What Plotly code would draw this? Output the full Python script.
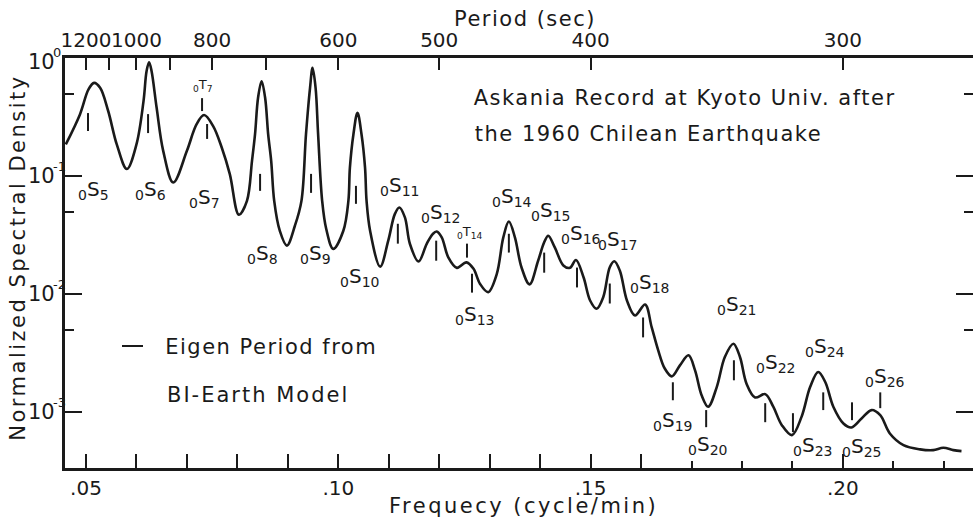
import math
import plotly.graph_objects as go

# ---- data ----
freq = [0.0460, 0.0488, 0.0505, 0.0516, 0.0528, 0.0544, 0.0561, 0.0581, 0.0600, 0.0614,
        0.0620, 0.0625, 0.0630, 0.0640, 0.0653, 0.0673, 0.0700, 0.0719, 0.0734, 0.0752,
        0.0769, 0.0785, 0.0803, 0.0819, 0.0829, 0.0835, 0.0841, 0.0848, 0.0855, 0.0861,
        0.0867, 0.0873, 0.0884, 0.0898, 0.0914, 0.0927, 0.0936, 0.0944, 0.0949, 0.0955,
        0.0960, 0.0968, 0.0976, 0.0990, 0.1010, 0.1020, 0.1023, 0.1030, 0.1038, 0.1046,
        0.1053, 0.1056, 0.1063, 0.1083, 0.1099, 0.1112, 0.1121, 0.1132, 0.1142, 0.1159,
        0.1175, 0.1187, 0.1195, 0.1205, 0.1218, 0.1235, 0.1254, 0.1268, 0.1281, 0.1297,
        0.1314, 0.1327, 0.1338, 0.1350, 0.1363, 0.1379, 0.1396, 0.1408, 0.1416, 0.1429,
        0.1446, 0.1459, 0.1471, 0.1486, 0.1499, 0.1512, 0.1525, 0.1538, 0.1547, 0.1558,
        0.1572, 0.1588, 0.1608, 0.1621, 0.1634, 0.1647, 0.1661, 0.1677, 0.1694, 0.1707,
        0.1720, 0.1733, 0.1750, 0.1766, 0.1783, 0.1796, 0.1809, 0.1826, 0.1846, 0.1862,
        0.1879, 0.1899, 0.1918, 0.1935, 0.1951, 0.1965, 0.1981, 0.2001, 0.2017, 0.2037,
        0.2057, 0.2074, 0.2093, 0.2120, 0.2153, 0.2179, 0.2199, 0.2219, 0.2235]
density = [0.186, 0.334, 0.544, 0.618, 0.561, 0.357, 0.186, 0.115, 0.186, 0.433,
           0.776, 0.925, 0.776, 0.380, 0.164, 0.0883, 0.164, 0.275, 0.330, 0.266,
           0.175, 0.104, 0.0471, 0.0618, 0.135, 0.227, 0.462, 0.639, 0.462, 0.227,
           0.135, 0.0618, 0.0345, 0.0258, 0.0380, 0.0618, 0.227, 0.561, 0.828, 0.561,
           0.227, 0.0618, 0.0358, 0.0242, 0.0345, 0.0618, 0.118, 0.227, 0.345, 0.227,
           0.118, 0.0618, 0.0345, 0.0171, 0.0284, 0.0477, 0.0543, 0.0447, 0.0266, 0.0189,
           0.0266, 0.0323, 0.0340, 0.0303, 0.0205, 0.0167, 0.0186, 0.0164, 0.0122, 0.0104,
           0.0148, 0.0303, 0.0413, 0.0303, 0.0169, 0.0121, 0.0192, 0.0275, 0.0313, 0.0249,
           0.0175, 0.0167, 0.0195, 0.0139, 0.00883, 0.00751, 0.00941, 0.0169, 0.0190, 0.0158,
           0.00883, 0.00659, 0.00817, 0.00525, 0.00334, 0.00234, 0.00201, 0.00249, 0.00303, 0.00226,
           0.00139, 0.00111, 0.00163, 0.00293, 0.00380, 0.00293, 0.00174, 0.00133, 0.00142, 0.00111,
           0.000775, 0.000638, 0.000911, 0.00163, 0.00219, 0.00180, 0.00111, 0.000801, 0.000741, 0.000883,
           0.00104, 0.000941, 0.000659, 0.000525, 0.000483, 0.000476, 0.000498, 0.000476, 0.000467]

# eigen periods from the Bl-Earth model (frequency, cycle/min)
eigen_names = ["S5", "S6", "T7", "S7", "S8", "S9", "S10", "S11", "S12", "T14", "S13", "S14",
               "S15", "S16", "S17", "S18", "S19", "S20", "S21", "S22", "S23", "S24", "S25", "S26"]
eigen_freq = [0.0504, 0.0623, 0.0730, 0.0740, 0.0845, 0.0946, 0.1035, 0.1118, 0.1194, 0.1255,
              0.1265, 0.1338, 0.1408, 0.1473, 0.1538, 0.1604, 0.1663, 0.1729, 0.1784, 0.1846,
              0.1901, 0.1961, 0.2018, 0.2074]

x_tick_vals = [0.05, 0.06, 0.07, 0.08, 0.09, 0.10, 0.11, 0.12, 0.13, 0.14, 0.15, 0.16, 0.20]
x_tick_text = [".05", "", "", "", "", ".10", "", "", "", "", ".15", "", ".20"]
x_minor_vals = [0.17, 0.18, 0.19, 0.21, 0.22]
periods = [1200, 1100, 1000, 900, 800, 700, 600, 500, 400, 300]
period_text = ["1200", "", "1000", "", "800", "", "600", "500", "400", "300"]
y_tick_vals = [1, 0.1, 0.01, 0.001]
y_tick_exp = ["0", "-1", "-2", "-3"]
y_minor_vals = [0.5, 0.05, 0.005]

# ---- layout positions (not data) ----
marker_span = [(0.343, 0.2415), (0.336, 0.232), (0.459, 0.3565), (0.277, 0.207), (0.1046, 0.0751),
               (0.1046, 0.0722), (0.0828, 0.0583), (0.0395, 0.0268), (0.0284, 0.0192), (0.0268, 0.0204),
               (0.0149, 0.0103), (0.0325, 0.0225), (0.0225, 0.0152), (0.0168, 0.0114), (0.0123, 0.00833),
               (0.00634, 0.0043), (0.00179, 0.00126), (0.00104, 0.000745), (0.00275, 0.00186),
               (0.00119, 0.000821), (0.000979, 0.000676), (0.00147, 0.00104), (0.00121, 0.000854),
               (0.00147, 0.00108)]
label_px = [(93, 190), (150, 190), (203, 86), (204, 198), (262, 254), (315, 254), (359, 277),
            (399, 186), (440, 213), (470, 232), (474, 315), (512, 197), (550, 211), (581, 234),
            (617, 240), (649, 283), (672, 421), (707, 445), (736, 305), (775, 363), (812, 446),
            (825, 347), (861, 447), (885, 377)]

W, H = 973, 518
L, R, T, B = 65, 0, 58, 50
PW, PH = W - L - R, H - T - B
FONT = "DejaVu Sans"
INK = "#1a1a1a"


def P(px, py):
    return dict(x=(px - L) / PW, y=(H - B - py) / PH, xref="paper", yref="paper")


x_range = [0.04584, 0.22578]
y_range = [-3.474, 0.002]

fig = go.Figure()
fig.add_trace(go.Scatter(x=freq, y=density, mode="lines",
                         line=dict(color=INK, width=2.6, shape="spline", smoothing=1.0),
                         showlegend=False, hoverinfo="skip"))
mx, my = [], []
for f, (a, b) in zip(eigen_freq, marker_span):
    mx += [f, f, None]
    my += [a, b, None]
fig.add_trace(go.Scatter(x=mx, y=my, mode="lines", line=dict(color=INK, width=2),
                         showlegend=False, hoverinfo="skip"))
fig.add_trace(go.Scatter(x=[60 / p for p in periods], y=[0.5] * len(periods), xaxis="x2",
                         mode="markers", marker=dict(opacity=0), showlegend=False, hoverinfo="skip"))

annotations = []
for name, (px, py) in zip(eigen_names, label_px):
    small = name.startswith("T")
    letter, idx = name[0], name[1:]
    size = 13 if small else 20
    annotations.append(dict(**P(px, py), text=f"<sub>0</sub>{letter}<sub>{idx}</sub>",
                            showarrow=False, font=dict(family=FONT, size=size, color=INK),
                            xanchor="center", yanchor="middle"))

# y tick labels "10" with a raised exponent overlapping the top-right of the "0"
for v, e in zip(y_tick_vals, y_tick_exp):
    lv = math.log10(v)
    dy = -4 if v == 1 else 0
    annotations.append(dict(x=(57 - L) / PW, xref="paper", y=lv, yref="y", yshift=dy,
                            text="10", showarrow=False, xanchor="right", yanchor="middle",
                            font=dict(family=FONT, size=21, color=INK)))
    annotations.append(dict(x=(51 - L) / PW, xref="paper", y=lv, yref="y", yshift=dy + 10,
                            text=e, showarrow=False, xanchor="left", yanchor="middle",
                            font=dict(family=FONT, size=13, color=INK)))

TF = dict(family=FONT, size=21, color=INK)
annotations += [
    dict(**P(498, 98), text="Askania Record at Kyoto Univ. after", showarrow=False,
         xanchor="left", yanchor="middle", font=TF),
    dict(**P(493, 134), text="the 1960 Chilean Earthquake", showarrow=False,
         xanchor="left", yanchor="middle", font=TF),
    dict(**P(176, 347), text="Eigen Period from", showarrow=False,
         xanchor="left", yanchor="middle", font=TF),
    dict(**P(179, 395), text="BI-Earth Model", showarrow=False,
         xanchor="left", yanchor="middle", font=TF),
    dict(**P(18, 258), text="Normalized Spectral Density", showarrow=False, textangle=-90,
         xanchor="center", yanchor="middle", font=TF),
    dict(**P(523, 506), text="Frequecy (cycle/min)", showarrow=False,
         xanchor="center", yanchor="middle", font=TF),
    dict(**P(525, 19), text="Period (sec)", showarrow=False,
         xanchor="center", yanchor="middle", font=TF),
]

shapes = [dict(type="line", xref="paper", yref="paper",
               x0=(122 - L) / PW, x1=(143 - L) / PW,
               y0=(H - B - 346) / PH, y1=(H - B - 346) / PH,
               line=dict(color=INK, width=2))]

fig.update_layout(
    width=W, height=H, margin=dict(l=L, r=R, t=T, b=B, autoexpand=False),
    paper_bgcolor="white", plot_bgcolor="white",
    font=dict(family=FONT, size=20, color=INK),
    xaxis=dict(range=x_range, showgrid=False, zeroline=False, showline=True, linecolor=INK,
               linewidth=2.5, ticks="inside", ticklen=14, tickwidth=2, tickcolor=INK,
               tickmode="array", tickvals=x_tick_vals, ticktext=x_tick_text, tickangle=0,
               automargin=False, tickfont=dict(family=FONT, size=20, color=INK),
               minor=dict(tickmode="array", tickvals=x_minor_vals, ticks="inside", ticklen=7,
                          tickwidth=2, tickcolor=INK, showgrid=False)),
    xaxis2=dict(range=x_range, overlaying="x", side="top", showgrid=False, zeroline=False,
                showline=True, linecolor=INK, linewidth=2.5, ticks="inside", ticklen=12,
                tickwidth=2, tickcolor=INK, tickmode="array", tickangle=0, automargin=False,
                tickvals=[60 / p for p in periods], ticktext=period_text,
                tickfont=dict(family=FONT, size=20, color=INK)),
    yaxis=dict(type="log", range=y_range, showgrid=False, zeroline=False, showline=True,
               linecolor=INK, linewidth=2.5, mirror="ticks", ticks="inside", ticklen=17,
               tickwidth=2, tickcolor=INK, tickmode="array", tickvals=y_tick_vals,
               showticklabels=False, automargin=False,
               minor=dict(tickmode="array", tickvals=y_minor_vals, ticks="inside", ticklen=9,
                          tickwidth=2, tickcolor=INK, showgrid=False)),
    annotations=annotations, shapes=shapes,
)

post = """
document.body.style.margin='0';
document.body.style.overflow='hidden';
var sp = {'Askania':1.5,'the 1960':1.5,'Eigen':1.5,'BI-Earth':2,'Normalized':2.5,'Frequecy':2.5,'Period (sec)':1.5};
document.querySelectorAll('text.annotation-text').forEach(function(t){
  var s = t.textContent || '';
  for (var k in sp) { if (s.indexOf(k) === 0) { t.style.letterSpacing = sp[k] + 'px'; } }
});
"""
fig.write_html("out.html", post_script=post, config={"displayModeBar": False})
